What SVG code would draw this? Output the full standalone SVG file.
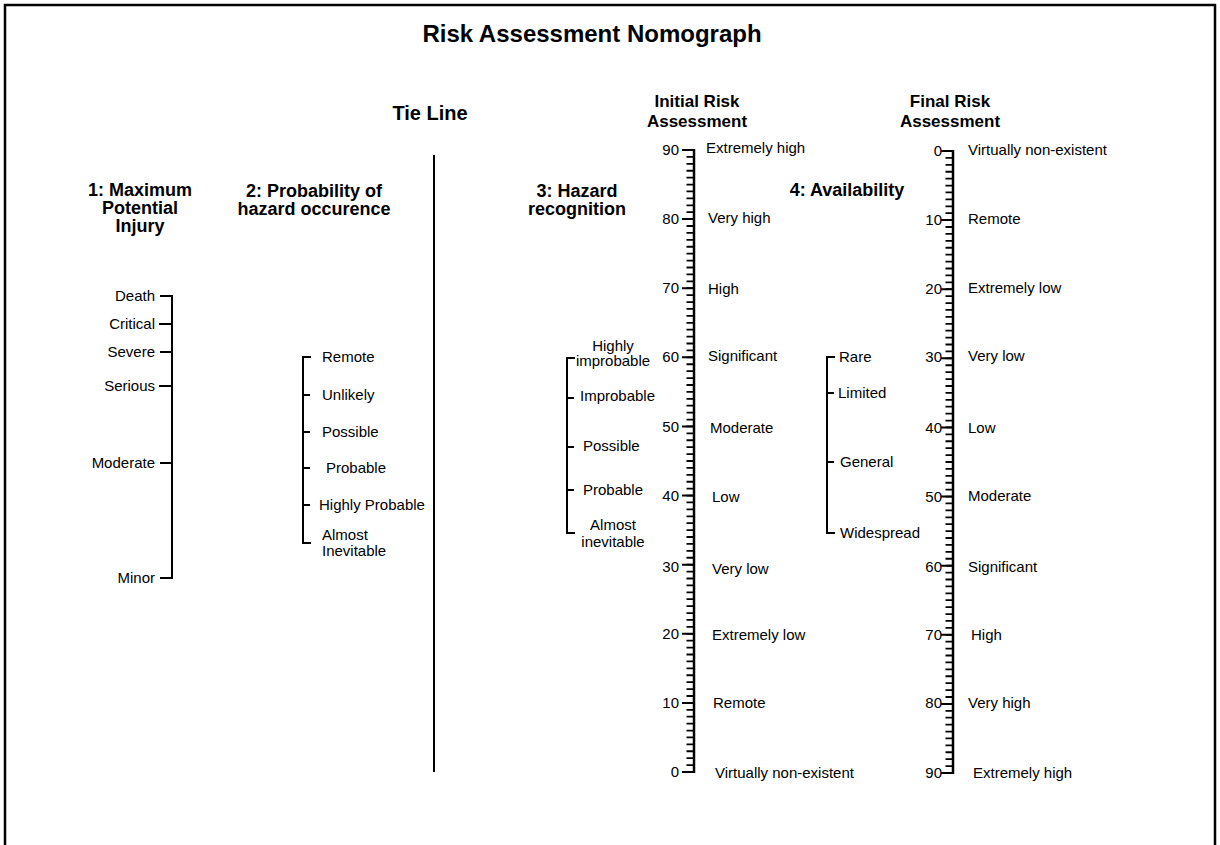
<svg xmlns="http://www.w3.org/2000/svg" xmlns:xlink="http://www.w3.org/1999/xlink" width="1220" height="845" viewBox="0 0 1220 845">
  <style>
    text { font-family: "Liberation Sans", Arial, sans-serif; fill: #000; }
    .title { font-size: 24px; font-weight: bold; text-anchor: middle; }
    .head { font-size: 18px; font-weight: bold; text-anchor: middle; }
    .head2 { font-size: 17px; font-weight: bold; text-anchor: middle; }
    .lbl { font-size: 15px; }
    .num { font-size: 15px; text-anchor: end; }
    .end { text-anchor: end; }
    .mid { text-anchor: middle; }
    .ink { fill: none; stroke: #000; stroke-width: 2; }
  </style>
  <defs>
    <!-- 90-division scale: spine, unit ticks every 6.911px, long ticks every 10 units -->
    <g id="ruler">
      <line x1="-4" y1="-0.9" x2="-4" y2="622.9" stroke="#000" stroke-width="7" stroke-dasharray="1.8 5.1111"/>
      <path class="ink" d="M-12 0H0M-12 69.11H0M-12 138.22H0M-12 207.33H0M-12 276.44H0M-12 345.56H0M-12 414.67H0M-12 483.78H0M-12 552.89H0M-12 622H0"/>
      <path d="M0 -1V623" fill="none" stroke="#000" stroke-width="2.5"/>
    </g>
  </defs>

  <rect width="1220" height="845" fill="#fff"/>

  <g id="frame">
    <path d="M5 845V5H1215V845" fill="none" stroke="#000" stroke-width="2.5"/>
  </g>

  <g id="title">
    <text class="title" x="592" y="42">Risk Assessment Nomograph</text>
  </g>

  <!-- Scale 1 -->
  <g id="scale-injury">
    <text class="head" x="140" y="196">1: Maximum</text>
    <text class="head" x="140" y="214">Potential</text>
    <text class="head" x="140" y="232">Injury</text>
    <path class="ink" d="M160 296H172V578H160M159 324H172M160 352H172M159 386H172M160 463H172"/>
    <text class="lbl end" x="155" y="301">Death</text>
    <text class="lbl end" x="155" y="329">Critical</text>
    <text class="lbl end" x="155" y="357">Severe</text>
    <text class="lbl end" x="155" y="391">Serious</text>
    <text class="lbl end" x="155" y="468">Moderate</text>
    <text class="lbl end" x="155" y="583">Minor</text>
  </g>

  <!-- Scale 2 -->
  <g id="scale-probability">
    <text class="head" x="314" y="197">2: Probability of</text>
    <text class="head" x="314" y="215">hazard occurence</text>
    <path class="ink" d="M311 357H303V543H311M303 395H310M303 432H310M303 468H310M303 505H310"/>
    <text class="lbl" x="322" y="362">Remote</text>
    <text class="lbl" x="322" y="400">Unlikely</text>
    <text class="lbl" x="322" y="437">Possible</text>
    <text class="lbl" x="326" y="473">Probable</text>
    <text class="lbl" x="319" y="510">Highly Probable</text>
    <text class="lbl" x="322" y="540">Almost</text>
    <text class="lbl" x="322" y="556">Inevitable</text>
  </g>

  <!-- Pivot line -->
  <g id="tie-line">
    <text x="430" y="120" style="font-size:20px;font-weight:bold;text-anchor:middle">Tie Line</text>
  </g>
  <g id="connectors">
    <path d="M434 155V772" fill="none" stroke="#000" stroke-width="2"/>
  </g>

  <!-- Scale 3 -->
  <g id="scale-hazard">
    <text class="head" x="577" y="197">3: Hazard</text>
    <text class="head" x="577" y="215">recognition</text>
    <path class="ink" d="M575 358H567V533H575M567 398H574M567 447H574M567 490H574"/>
    <text class="lbl mid" x="613" y="351">Highly</text>
    <text class="lbl mid" x="613" y="366">improbable</text>
    <text class="lbl" x="580" y="401">Improbable</text>
    <text class="lbl" x="583" y="451">Possible</text>
    <text class="lbl" x="583" y="495">Probable</text>
    <text class="lbl mid" x="613" y="530">Almost</text>
    <text class="lbl mid" x="613" y="547">inevitable</text>
  </g>

  <!-- Initial risk scale, 90 at top -->
  <g id="scale-initial">
    <text class="head2" x="697" y="107">Initial Risk</text>
    <text class="head2" x="697" y="127">Assessment</text>
    <use xlink:href="#ruler" href="#ruler" x="694" y="150"/>
    <text class="num" x="679" y="155">90</text>
    <text class="num" x="679" y="224">80</text>
    <text class="num" x="679" y="293">70</text>
    <text class="num" x="679" y="362">60</text>
    <text class="num" x="679" y="432">50</text>
    <text class="num" x="679" y="501">40</text>
    <text class="num" x="679" y="572">30</text>
    <text class="num" x="679" y="639">20</text>
    <text class="num" x="679" y="708">10</text>
    <text class="num" x="679" y="777">0</text>
    <text class="lbl" x="706" y="153">Extremely high</text>
    <text class="lbl" x="708" y="223">Very high</text>
    <text class="lbl" x="708" y="294">High</text>
    <text class="lbl" x="708" y="361">Significant</text>
    <text class="lbl" x="710" y="433">Moderate</text>
    <text class="lbl" x="712" y="502">Low</text>
    <text class="lbl" x="712" y="574">Very low</text>
    <text class="lbl" x="712" y="640">Extremely low</text>
    <text class="lbl" x="713" y="708">Remote</text>
    <text class="lbl" x="715" y="778">Virtually non-existent</text>
  </g>

  <!-- Scale 4 -->
  <g id="scale-availability">
    <text class="head" x="847" y="196">4: Availability</text>
    <path class="ink" d="M835 357H827V533H835M827 393H834M827 462H834"/>
    <text class="lbl" x="839" y="362">Rare</text>
    <text class="lbl" x="838" y="398">Limited</text>
    <text class="lbl" x="840" y="467">General</text>
    <text class="lbl" x="840" y="538">Widespread</text>
  </g>

  <!-- Final risk scale, 0 at top -->
  <g id="scale-final">
    <text class="head2" x="950" y="107">Final Risk</text>
    <text class="head2" x="950" y="127">Assessment</text>
    <use xlink:href="#ruler" href="#ruler" x="953" y="151"/>
    <text class="num" x="942" y="156">0</text>
    <text class="num" x="942" y="225">10</text>
    <text class="num" x="942" y="294">20</text>
    <text class="num" x="942" y="362">30</text>
    <text class="num" x="942" y="433">40</text>
    <text class="num" x="942" y="502">50</text>
    <text class="num" x="942" y="572">60</text>
    <text class="num" x="942" y="640">70</text>
    <text class="num" x="942" y="708">80</text>
    <text class="num" x="942" y="778">90</text>
    <text class="lbl" x="968" y="155">Virtually non-existent</text>
    <text class="lbl" x="968" y="224">Remote</text>
    <text class="lbl" x="968" y="293">Extremely low</text>
    <text class="lbl" x="968" y="361">Very low</text>
    <text class="lbl" x="968" y="433">Low</text>
    <text class="lbl" x="968" y="501">Moderate</text>
    <text class="lbl" x="968" y="572">Significant</text>
    <text class="lbl" x="971" y="640">High</text>
    <text class="lbl" x="968" y="708">Very high</text>
    <text class="lbl" x="973" y="778">Extremely high</text>
  </g>
</svg>
